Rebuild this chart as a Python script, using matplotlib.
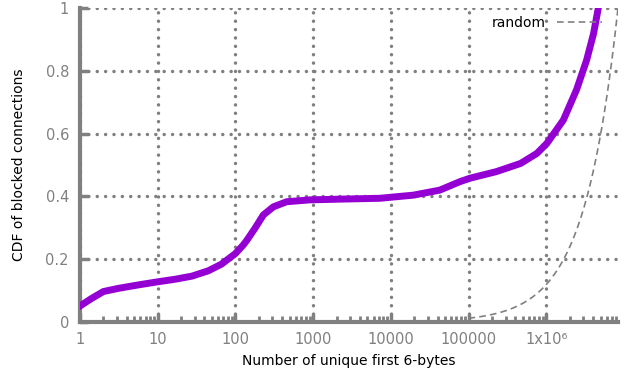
import numpy as np
import matplotlib
matplotlib.use("Agg")
import matplotlib.pyplot as plt
from matplotlib.ticker import FixedLocator, FixedFormatter, LogLocator, NullFormatter

# measured CDF of blocked connections (x = number of unique first 6-bytes)
cdf_x = [1, 1.41, 2.0, 3.1, 5.6, 10, 16.6, 27.5, 44.7, 66, 100, 126, 141,
         178, 229, 309, 457, 912, 1995, 7244, 19500, 42700, 77600, 104700,
         229000, 468000, 759000, 1.02e6, 1.66e6, 2.45e6, 3.31e6, 4.07e6,
         4.68e6]
cdf_y = [0.051, 0.075, 0.097, 0.107, 0.118, 0.128, 0.136, 0.146, 0.163,
         0.184, 0.218, 0.245, 0.261, 0.298, 0.341, 0.367, 0.383, 0.389,
         0.391, 0.394, 0.404, 0.42, 0.447, 0.458, 0.479, 0.505, 0.537,
         0.569, 0.643, 0.739, 0.834, 0.919, 1.0]

# random baseline: uniform over 2^23 values
rand_n = 2 ** 23
rand_x = np.logspace(5, np.log10(rand_n), 200)
rand_y = rand_x / rand_n

xticks = [1, 10, 100, 1000, 10000, 100000, 1e6]
xlabels = ["1", "10", "100", "1000", "10000", "100000", "1x10\u2076"]
yticks = [0, 0.2, 0.4, 0.6, 0.8, 1]
ylabels = ["0", "0.2", "0.4", "0.6", "0.8", "1"]

grey = "#808080"

fig = plt.figure(figsize=(6.26, 3.77), dpi=100)
ax = fig.add_axes([80 / 626, 1 - 322 / 377, 538 / 626, 314 / 377])

ax.plot(cdf_x, cdf_y, color="#9400D3", lw=5, solid_joinstyle="round", zorder=3)
ax.plot(rand_x, rand_y, color=grey, lw=1.2, ls=(0, (4, 2.5)), label="random", zorder=2)

ax.set_xscale("log")
ax.set_xlim(1, rand_n)
ax.set_ylim(0, 1)

ax.xaxis.set_major_locator(FixedLocator(xticks))
ax.xaxis.set_major_formatter(FixedFormatter(xlabels))
ax.xaxis.set_minor_locator(LogLocator(base=10, subs=np.arange(2, 10), numticks=20))
ax.xaxis.set_minor_formatter(NullFormatter())
ax.yaxis.set_major_locator(FixedLocator(yticks))
ax.yaxis.set_major_formatter(FixedFormatter(ylabels))

ax.grid(True, which="major", color=grey, ls=(0, (0.01, 2.4)), lw=2.5,
        dash_capstyle="round")
ax.set_axisbelow(True)

for s in ["top", "right"]:
    ax.spines[s].set_visible(False)
for s in ["left", "bottom"]:
    ax.spines[s].set_color(grey)
    ax.spines[s].set_linewidth(3)

ax.tick_params(which="major", direction="in", length=6, width=2.5, color=grey,
               labelcolor=grey, labelsize=10.5, pad=7)
ax.tick_params(which="minor", direction="in", length=4, width=2, color=grey)
ax.tick_params(axis="y", pad=8)

ax.set_xlabel("Number of unique first 6-bytes", fontsize=10, labelpad=5)
ax.set_ylabel("CDF of blocked connections", fontsize=10, labelpad=14)

ax.legend(loc="upper right", frameon=False, markerfirst=False, fontsize=10,
          handlelength=3.2, borderaxespad=0.2, bbox_to_anchor=(0.985, 1.0))

fig.savefig("out.png", dpi=100)
